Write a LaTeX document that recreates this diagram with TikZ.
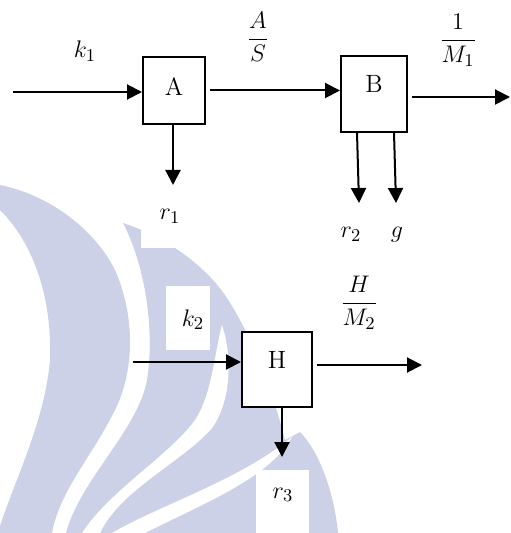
\documentclass[tikz,border=0pt]{standalone}
\usetikzlibrary{arrows.meta}
\definecolor{wmcol}{RGB}{205,209,232}
\begin{document}
\begin{tikzpicture}[x=0.5pt,y=-0.5pt,
  box/.style={draw,fill=white,line width=1pt,inner sep=0pt},
  boxtxt/.style={inner sep=0pt,font=\fontsize{12.5}{14}\selectfont},
  arr/.style={line width=1pt,-{Triangle[length=7.5pt,width=7.5pt]}},
  lbl/.style={anchor=base,inner sep=0pt,font=\fontsize{12.5}{14}\selectfont},
  wm/.style={fill=wmcol},
  blank/.style={fill=white}
]
\useasboundingbox (0,0) rectangle (510,533);
% watermark
\fill[wm] (0,185) .. controls (50,195) and (95,230) .. (115,270)
  .. controls (135,315) and (135,370) .. (115,410)
  .. controls (90,460) and (60,490) .. (52,533) -- (0,533) -- (0,526)
  .. controls (15,480) and (45,420) .. (50,360)
  .. controls (52,300) and (35,245) .. (0,210) -- cycle;
\fill[wm] (123,223) .. controls (145,265) and (155,330) .. (147,380)
  .. controls (138,430) and (80,480) .. (66,533) -- (338,533)
  .. controls (334,490) and (318,450) .. (300,432) -- (285,440)
  .. controls (275,400) and (255,340) .. (225,295)
  .. controls (200,260) and (160,235) .. (123,223) -- cycle;
\fill[blank] (82,533) .. controls (110,490) and (170,455) .. (195,420)
  .. controls (212,395) and (215,350) .. (222,325)
  .. controls (232,355) and (232,400) .. (212,428)
  .. controls (185,460) and (120,490) .. (100,533) -- cycle;
\fill[blank] (112,533) .. controls (160,505) and (240,480) .. (292,437)
  .. controls (270,478) and (200,505) .. (145,533) -- cycle;
% white label patches
\fill[blank] (141,190) rectangle (205,248);
\fill[blank] (166,286) rectangle (210,350);
\fill[blank] (256,470) rectangle (309,533);
% boxes
\node[box,minimum width=31pt,minimum height=33.5pt,
  label={[boxtxt,yshift=1.75pt]center:A}] (A) at (174,90.5) {};
\node[box,minimum width=33pt,minimum height=38pt,
  label={[boxtxt,yshift=5pt]center:B}] (B) at (374,94) {};
\node[box,minimum width=35pt,minimum height=37.5pt,
  label={[boxtxt,yshift=5pt]center:H}] (H) at (277,369.5) {};
% free ends
\coordinate (k1in) at (13,92);
\coordinate (bout) at (510,97);
\coordinate (r1end) at (173,185);
\coordinate (r2end) at (359,203);
\coordinate (gend) at (396,203);
\coordinate (k2in) at (133,362);
\coordinate (hout) at (422,365);
\coordinate (r3end) at (282,457);
% connectors
\draw[arr] (k1in) -- (k1in -| A.west);
\draw[arr] ([xshift=2pt]A.east) -- (A.east -| B.west);
\draw[arr] ([xshift=2pt]B.east |- bout) -- (bout);
\draw[arr] (A.south -| r1end) -- (r1end);
\draw[arr] ([xshift=-8.5pt]B.south) -- (r2end);
\draw[arr] ([xshift=10pt]B.south) -- (gend);
\draw[arr] (k2in) -- (k2in -| H.west);
\draw[arr] ([xshift=2pt]H.east |- hout) -- (hout);
\draw[arr] (H.south -| r3end) -- (r3end);
% labels
\node[lbl] (k1) at (85,58) {$k_1$};
\node[lbl] (AS) at (258,45) {$\displaystyle\frac{A}{S\rule{0pt}{10pt}}$};
\node[lbl] (M1) at (458,46) {$\displaystyle\frac{1}{M_1\rule{0pt}{10pt}}$};
\node[lbl] (r1) at (170,220) {$r_1$};
\node[lbl] (r2) at (351,238) {$r_2$};
\node[lbl] (g) at (397,238) {$g$};
\node[lbl] (HM) at (359,309) {$\displaystyle\frac{H}{M_2\rule{0pt}{10pt}}$};
\node[lbl] (k2) at (193,326) {$k_2$};
\node[lbl] (r3) at (283,498) {$r_3$};
\end{tikzpicture}
\end{document}
